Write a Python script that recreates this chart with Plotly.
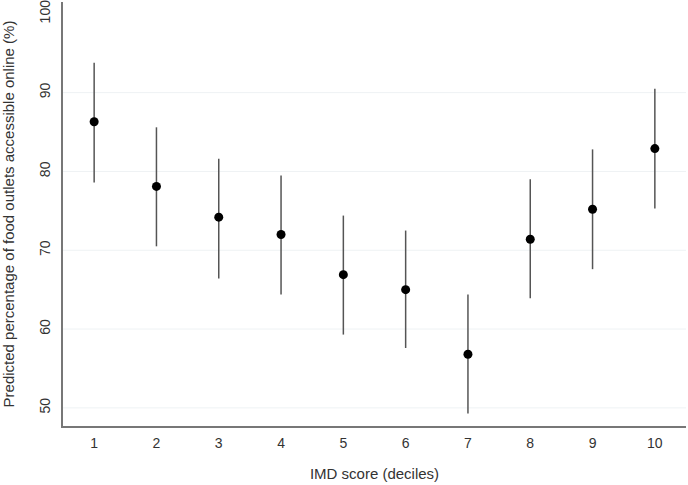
import plotly.graph_objects as go

deciles = [1, 2, 3, 4, 5, 6, 7, 8, 9, 10]
predicted = [86.3, 78.1, 74.2, 72.0, 66.9, 65.0, 56.8, 71.4, 75.2, 82.9]
upper = [93.8, 85.6, 81.6, 79.5, 74.4, 72.5, 64.4, 79.0, 82.8, 90.5]
lower = [78.6, 70.5, 66.4, 64.4, 59.3, 57.6, 49.3, 63.9, 67.6, 75.3]
y_ticks = [50, 60, 70, 80, 90, 100]
grid_lines = [50, 60, 70, 80, 90]  # no gridline drawn at 100 in the original

err_plus = [u - p for u, p in zip(upper, predicted)]
err_minus = [p - l for p, l in zip(predicted, lower)]

fig = go.Figure()
fig.add_trace(go.Scatter(
    x=deciles, y=predicted, mode="markers",
    marker=dict(color="black", size=9),
    error_y=dict(type="data", symmetric=False, array=err_plus, arrayminus=err_minus,
                 color="#555555", thickness=1.5, width=0),
    showlegend=False,
))

for g in grid_lines:
    fig.add_hline(y=g, line=dict(color="#eef2f4", width=1), layer="below")

font = dict(family="Liberation Sans, Arial, sans-serif", size=12.5, color="#333333")
tickfont = dict(family="Liberation Sans, Arial, sans-serif", size=14, color="#333333")
fig.update_layout(
    width=688, height=485,
    margin=dict(l=63, r=2, t=2, b=59),
    plot_bgcolor="white", paper_bgcolor="white",
    font=font,
)
fig.update_xaxes(
    range=[0.5, 10.5], tickvals=deciles, showgrid=False, zeroline=False,
    showline=True, linecolor="#777777", linewidth=1.5,
    ticks="", ticklabelstandoff=3, automargin=False, tickfont=tickfont,
    title=dict(text="IMD score (deciles)", standoff=19),
)
fig.update_yaxes(
    range=[47.7, 101.5], tickvals=y_ticks,
    showgrid=False, zeroline=False,
    showline=True, linecolor="#777777", linewidth=1.5,
    ticks="", tickangle=-90, ticklabelstandoff=6, automargin=False, tickfont=tickfont,
    ticklabeloverflow="allow",
    title=dict(text="Predicted percentage of food outlets accessible online (%)", standoff=18),
)

# page body has a default 8px margin; drop it so the figure sits at the corner
fig.write_html("out.html", config={"displayModeBar": False},
               post_script="document.body.style.margin='0px';")
